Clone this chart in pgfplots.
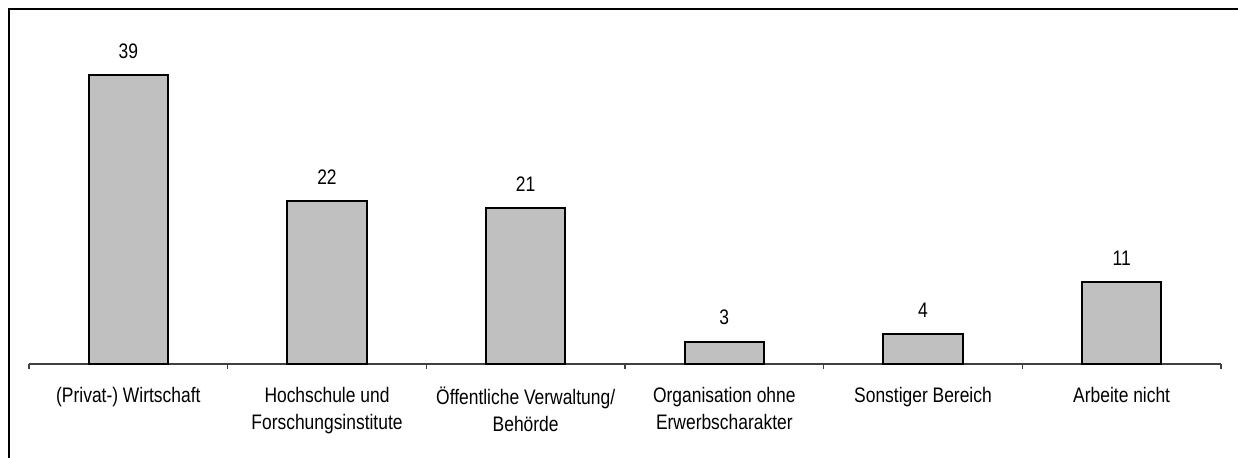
\documentclass[border=0pt]{standalone}
\usepackage{pgfplots}
\pgfplotsset{compat=1.18}
\usepackage{fontspec}
\setmainfont{Liberation Sans}[FakeStretch=0.83]
\definecolor{barfill}{RGB}{192,192,192}
\begin{document}
\begin{tikzpicture}
\useasboundingbox (0,0) rectangle (619pt,229pt);
\draw[line width=1pt] (4.5pt,0) -- (4.5pt,224.5pt) -- (619pt,224.5pt);
\begin{axis}[
  at={(14.5pt,47pt)}, anchor=south west,
  width=596pt, height=166.75pt, scale only axis,
  xmin=-0.5, xmax=5.5, ymin=0, ymax=45,
  /pgf/number format/assume math mode=true,
  axis x line*=bottom, axis y line=none,
  axis line style={line width=0.6pt, color=black!75},
  xtick={0,1,2,3,4,5},
  xticklabels={{(Privat-) Wirtschaft},{Hochschule und\\Forschungsinstitute},{Öffentliche Verwaltung/\\Behörde},{Organisation ohne\\Erwerbscharakter},{Sonstiger Bereich},{Arbeite nicht}},
  major tick length=0pt,
  xticklabel style={align=center, font=\fontsize{10.5}{13.5}\selectfont, yshift=-8pt},
  extra x ticks={-0.5,0.5,1.5,2.5,3.5,4.5,5.5},
  extra x tick labels={},
  extra x tick style={major tick length=2.5pt, tick align=outside, tick style={line width=0.6pt, color=black!75}},
  ybar, bar width=0.4,
  nodes near coords,
  every node near coord/.append style={font=\fontsize{10.5}{12}\selectfont, yshift=4.5pt},
  clip=false,
]
\addplot[fill=barfill, draw=black, line width=1pt] coordinates {(0,39) (1,22) (2,21) (3,3) (4,4) (5,11)};
\end{axis}
\end{tikzpicture}
\end{document}
